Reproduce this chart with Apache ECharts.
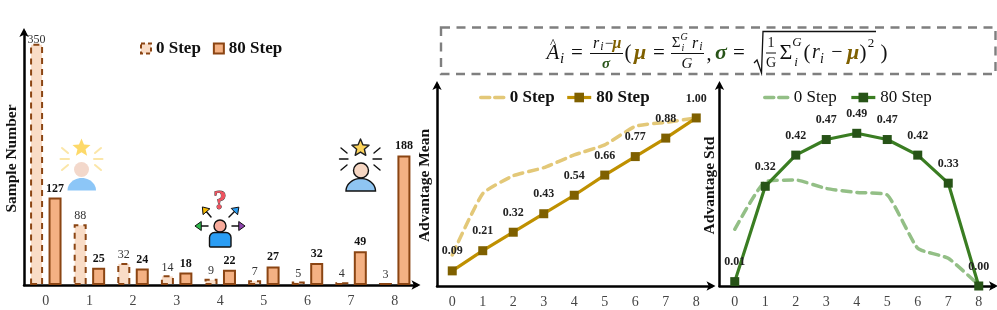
<!DOCTYPE html>
<html><head><meta charset="utf-8">
<style>html,body{margin:0;padding:0;background:#fff}#c{width:997px;height:310px}</style>
<script src="https://cdn.jsdelivr.net/npm/echarts@6/dist/echarts.min.js"></script>
</head><body><div id="c"></div>
<script>
const categories = ['0','1','2','3','4','5','6','7','8'];
const sampleStep0  = [350,88,32,14,9,7,5,4,3];
const sampleStep80 = [127,25,24,18,22,27,32,49,188];
const meanStep0  = [0.185,0.55,0.656,0.704,0.78,0.84,0.95,0.974,1.0];
const meanStep80 = [0.09,0.21,0.32,0.43,0.54,0.66,0.77,0.88,1.0];
const stdStep0  = [0.182,0.335,0.34,0.313,0.30,0.292,0.121,0.089,0.003];
const stdStep80 = [0.014,0.32,0.42,0.47,0.49,0.47,0.42,0.33,0.0];
const FONT = '"Liberation Serif","Times New Roman",serif';
const chart = echarts.init(document.getElementById('c'), null, {renderer:'canvas'});

function xAxis(i){return {type:'category',gridIndex:i,data:categories,
  axisLine:{symbol:['none','arrow'],symbolSize:[7,9],symbolOffset:[0,4],lineStyle:{color:'#000',width:2.5}},
  axisTick:{show:false},axisLabel:{fontFamily:FONT,fontSize:14,color:'#444',margin:9},splitLine:{show:false}};}
function yAxis(i,name,max,gap){return {type:'value',gridIndex:i,min:0,max:max,name:name,nameLocation:'middle',nameGap:gap,
  nameTextStyle:{fontFamily:FONT,fontSize:15.5,fontWeight:'bold',color:'#111'},
  axisLine:{show:true,symbol:['none','arrow'],symbolSize:[7,9],symbolOffset:[0,4],lineStyle:{color:'#000',width:2.5}},
  axisTick:{show:false},axisLabel:{show:false},splitLine:{show:false}};}

function barSeries(name,data,fill,dashed,bold){return {type:'bar',name:name,xAxisIndex:0,yAxisIndex:0,
  data:data.map((v,i)=>(dashed&&i===0)?{value:v,label:{distance:-2}}:v),
  barWidth:13,barGap:'42%',
  itemStyle:{color:fill,borderColor:'#8B4513',borderWidth:2,borderType:dashed?[6,5]:'solid'},
  label:{show:true,position:'top',distance:bold?3:2,fontFamily:FONT,fontSize:12,color:bold?'#111':'#333',fontWeight:bold?'bold':'normal'}};}
function dashLine(name,idx,data,color){return {type:'line',name:name,xAxisIndex:idx,yAxisIndex:idx,data:data,smooth:0.15,
  symbol:'none',lineStyle:{color:color,width:3.5,type:[9,6],cap:'round'},z:2};}
function solidLine(name,idx,data,line,sym,fmt){return {type:'line',name:name,xAxisIndex:idx,yAxisIndex:idx,data:data,
  symbol:'rect',symbolSize:9,clip:false,lineStyle:{color:line,width:3.2},itemStyle:{color:sym,borderColor:sym,borderWidth:0},z:3,
  label:{show:true,position:'top',distance:9,fontFamily:FONT,fontSize:12,fontWeight:'bold',color:'#222',
    formatter:p=>fmt[p.dataIndex]}};}
const meanLabels = meanStep80.map(v=>v.toFixed(2));
const stdLabels = ['0.01','0.32','0.42','0.47','0.49','0.47','0.42','0.33','0.00'];
const trim = n => n.trim();

function legendBase(left,gap,top,w,h,data,weight){return {left:left,top:top,itemWidth:w,itemHeight:h,itemGap:gap,data:data,selectedMode:false,padding:0,
  formatter:trim,textStyle:{fontFamily:FONT,fontSize:17,fontWeight:weight,color:'#111'}};}
function lineLegend(name,dash,color,sym){return dash
  ? {name:name,itemStyle:{opacity:0},lineStyle:{color:color,width:3.5,type:[9,5],cap:'round'}}
  : {name:name,itemStyle:{color:sym,opacity:1},lineStyle:{color:color,width:3.2,type:'solid'}};}

/* ---- decorative icons ---- */
function starPts(cx,cy,R){const p=[];for(let i=0;i<10;i++){const r=i%2?R*0.45:R,a=-Math.PI/2+i*Math.PI/5;p.push([cx+r*Math.cos(a),cy+r*Math.sin(a)]);}return p;}
function seg(a,b,c,d,col,w){return {type:'line',shape:{x1:a,y1:b,x2:c,y2:d},style:{stroke:col,lineWidth:w,lineCap:'round'},silent:true};}
function star(cx,cy,R,fill,stroke){return {type:'polygon',shape:{points:starPts(cx,cy,R)},style:{fill:fill,stroke:stroke,lineWidth:stroke?1.4:0,lineJoin:'round'},silent:true};}
function head(cx,cy,r,fill,stroke){return {type:'circle',shape:{cx:cx,cy:cy,r:r},style:{fill:fill,stroke:stroke,lineWidth:stroke?1.4:0},silent:true};}
function dome(x0,x1,y0,y1,fill,stroke){const cx=(x0+x1)/2,rx=(x1-x0)/2,ry=y1-y0,p=[];
  for(let i=0;i<=24;i++){const a=Math.PI+i*Math.PI/24;p.push([cx+rx*Math.cos(a),y1+ry*Math.sin(a)]);}
  return {type:'polygon',shape:{points:p},style:{fill:fill,stroke:stroke,lineWidth:stroke?1.4:0},silent:true};}
function rays(cx,cy,col,w,rx0,rx1){return [
  seg(cx-rx1,cy,cx-rx0,cy,col,w),seg(cx+rx0,cy,cx+rx1,cy,col,w),
  seg(cx-rx1+1.5,cy-11,cx-rx0-1,cy-6,col,w),seg(cx+rx1-1.5,cy-11,cx+rx0+1,cy-6,col,w),
  seg(cx-rx1+1.5,cy+11,cx-rx0-1,cy+6,col,w),seg(cx+rx1-1.5,cy+11,cx+rx0+1,cy+6,col,w)];}
function arrow(x0,y0,x1,y1,col){const a=Math.atan2(y1-y0,x1-x0),s=4.5,u=[Math.cos(a),Math.sin(a)],n=[-u[1],u[0]];
  const tip=[x1+u[0]*s*0.9,y1+u[1]*s*0.9];
  return [seg(x0,y0,x1,y1,'#111',1.5),
   {type:'polygon',shape:{points:[tip,[x1+n[0]*s-u[0]*s*0.5,y1+n[1]*s-u[1]*s*0.5],[x1-n[0]*s-u[0]*s*0.5,y1-n[1]*s-u[1]*s*0.5]]},style:{fill:col,stroke:'#111',lineWidth:1},silent:true}];}

const icons = [
  ...rays(81.5,159,'#FBE6A8',2,12.5,21),
  star(81.5,148,9.5,'#FDD969',null),
  head(81.5,169.5,7.5,'#F3D8CB',null),
  dome(67.5,96,178,190.5,'#8CC6F7',null),

  ...rays(360.5,159,'#111',1.4,12.5,21),
  star(360.5,148,9,'#FDD45A','#222'),
  head(361,170.5,7.5,'#F6D6C2','#111'),
  dome(346,375.5,178.5,191,'#8FC5F2','#111'),

  {type:'text',style:{x:220,y:202,text:'?',fontFamily:FONT,fontWeight:'bold',fontSize:27,fill:'#F0525F',stroke:'#333',lineWidth:0.8,align:'center',verticalAlign:'middle'},silent:true},
  ...arrow(208,226,199,226,'#2DB84B'),
  ...arrow(232,226,241,226,'#8E44AD'),
  ...arrow(211,217,205,210,'#F5B800'),
  ...arrow(229,217,236,210,'#2A9DF4'),
  head(220,226,6,'#F8AB9C','#111'),
  {type:'rect',silent:true,shape:{x:209.5,y:232.5,width:21.5,height:14.5,r:[5,5,1,1]},style:{fill:'#2A9DF4',stroke:'#111',lineWidth:1.4}}
];

/* ---- formula ---- */
const GOLD='#7F6000', GREEN='#275317', INK='#111';
function t(x,y,s,o){o=o||{};return {type:'text',silent:true,style:{x:x,y:y,text:s,align:o.align||'center',verticalAlign:'middle',
  fontFamily:o.font||FONT,fontSize:o.size||19,fontStyle:o.italic?'italic':'normal',fontWeight:o.bold?'bold':'normal',fill:o.color||INK}};}
function hbar(x0,x1,y,w){return {type:'line',silent:true,shape:{x1:x0,y1:y,x2:x1,y2:y},style:{stroke:INK,lineWidth:w||1}};}
const formula = [
  {type:'rect',silent:true,shape:{x:441,y:27.5,width:554.5,height:46.5},style:{fill:'none',stroke:'#7F7F7F',lineWidth:2.4,lineDash:[9,6.5]}},
  t(553,53,'A',{italic:true,size:21}), t(553,43.5,'^',{size:13}), t(562,59,'i',{italic:true,size:15}),
  t(577,53,'=',{size:21}),
  t(596,44,'r',{italic:true,size:16}), t(602,47,'i',{italic:true,size:12}), t(609,44,'−',{size:15}), t(617,44,'μ',{italic:true,bold:true,size:16,color:GOLD}),
  hbar(590,623,53.5,1), t(606,64,'σ',{italic:true,bold:true,size:15,color:GREEN}),
  t(628,53,'(',{size:21}), t(640,53,'μ',{italic:true,bold:true,size:22,color:GOLD}), t(659,53,'=',{size:21}),
  t(676,43,'Σ',{size:15}), t(684,37,'G',{italic:true,size:10}), t(683,48,'i',{italic:true,size:10}), t(695,44,'r',{italic:true,size:16}), t(701,47,'i',{italic:true,size:12}),
  hbar(671,704,53.5,1), t(687,64,'G',{italic:true,size:15}),
  t(709,55,',',{size:20}), t(721,53,'σ',{italic:true,bold:true,size:22,color:GREEN}), t(739,53,'=',{size:21}),
  {type:'polyline',silent:true,shape:{points:[[754,63],[757,60],[761.5,73],[763,31.5],[876,31.5]]},style:{stroke:INK,lineWidth:1.3,fill:'none'}},
  t(771,43,'1',{size:14}), hbar(766,776,53,1), t(771,63,'G',{size:14}),
  t(786,53,'Σ',{size:22}), t(797,43,'G',{italic:true,size:13}), t(796,63,'i',{italic:true,size:13}),
  t(807,53,'(',{size:21}), t(816,53,'r',{italic:true,size:20}), t(822,59,'i',{italic:true,size:14}), t(837,53,'−',{size:20}),
  t(853,53,'μ',{italic:true,bold:true,size:22,color:GOLD}), t(863,53,')',{size:21}), t(871,44,'2',{size:13}), t(884,53,')',{size:21})
];

chart.setOption({
  animation:false,backgroundColor:'#fff',
  grid:[
    {left:24,top:32,width:392.5,height:253,outerBoundsMode:'none'},
    {left:437,top:85,width:274.5,height:201,outerBoundsMode:'none'},
    {left:719.5,top:85,width:274.5,height:201,outerBoundsMode:'none'}
  ],
  xAxis:[xAxis(0),xAxis(1),xAxis(2)],
  yAxis:[yAxis(0,'Sample Number',367,4),yAxis(1,'Advantage Mean',1.196,4),yAxis(2,'Advantage Std',0.645,2)],
  legend:[
    legendBase(140,12,40,10,10,[
      {name:'0 Step',icon:'rect',itemStyle:{color:'#F9DCC6',borderColor:'#8B4513',borderWidth:2,borderType:[4,3]}},
      {name:'80 Step',icon:'rect',itemStyle:{color:'#F4B183',borderColor:'#8B4513',borderWidth:2,borderType:'solid'}}],'bold'),
    legendBase(479,11,89,24,12,[lineLegend('0 Step ',true,'#E3C878'),lineLegend('80 Step ',false,'#BF9000','#7F6000')],'bold'),
    legendBase(763,13,89,24,12,[lineLegend('0 Step  ',true,'#93BF86'),lineLegend('80 Step  ',false,'#3A7D22','#275317')],'normal')
  ],
  series:[
    barSeries('0 Step',sampleStep0,'#F9DCC6',true,false),
    barSeries('80 Step',sampleStep80,'#F4B183',false,true),
    dashLine('0 Step ',1,meanStep0,'#E3C878'),
    solidLine('80 Step ',1,meanStep80,'#BF9000','#7F6000',meanLabels),
    dashLine('0 Step  ',2,stdStep0,'#93BF86'),
    solidLine('80 Step  ',2,stdStep80,'#3A7D22','#275317',stdLabels)
  ],
  graphic:{elements:[...icons,...formula]}
});
</script></body></html>
